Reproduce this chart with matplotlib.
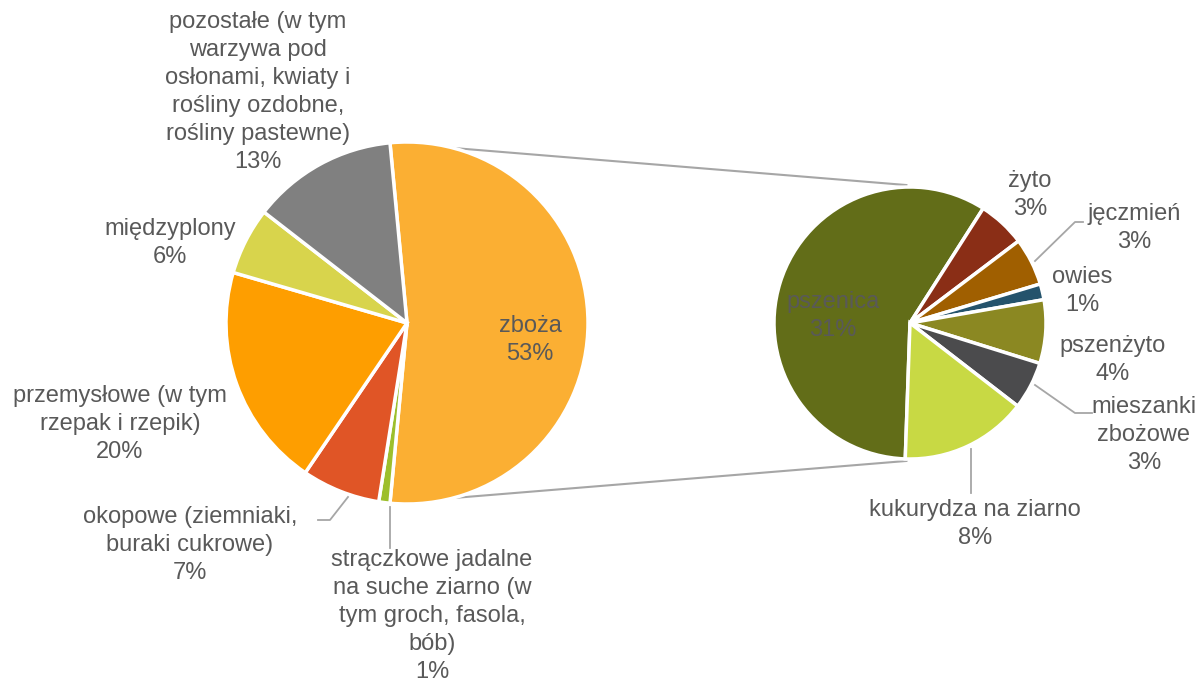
import numpy as np
import matplotlib
matplotlib.use('Agg')
import matplotlib.pyplot as plt

plt.rcParams['font.family'] = ['Liberation Sans', 'DejaVu Sans']

# pie 1 - struktura zasiewów
grupy = ['zboża', 'strączkowe jadalne\nna suche ziarno (w\ntym groch, fasola,\nbób)',
         'okopowe (ziemniaki,\nburaki cukrowe)', 'przemysłowe (w tym\nrzepak i rzepik)',
         'międzyplony',
         'pozostałe (w tym\nwarzywa pod\nosłonami, kwiaty i\nrośliny ozdobne,\nrośliny pastewne)']
udzial = [53, 1, 7, 20, 6, 13]
kolory = ['#FBAF33', '#9DBF2C', '#E05526', '#FE9E00', '#D8D44C', '#808080']

# pie 2 - zboża
zboza = ['pszenica', 'żyto', 'jęczmień', 'owies', 'pszenżyto', 'mieszanki\nzbożowe',
         'kukurydza na ziarno']
udzial_zb = [31, 3, 3, 1, 4, 3, 8]
kolory_zb = ['#626D18', '#8A2E16', '#A05F00', '#24536C', '#8B8822', '#4B4B4D', '#C8D944']

W, H = 1201, 682
fig = plt.figure(figsize=(W / 100, H / 100), dpi=100)
ax = fig.add_axes([0, 0, 1, 1])

c1 = (407, H - 323)
r1 = 181
c2 = (910, H - 323)
r2 = 136

w1, _ = ax.pie(udzial, colors=kolory, startangle=95.4, counterclock=False,
               center=c1, radius=r1, wedgeprops=dict(edgecolor='white', linewidth=2.5))
w2, _ = ax.pie(udzial_zb, colors=kolory_zb, startangle=-92, counterclock=False,
               center=c2, radius=r2, wedgeprops=dict(edgecolor='white', linewidth=2.5))

# linie łączące
t_a, t_b = w1[0].theta2, w1[0].theta1
for ta, tb in [(t_a, 91.5), (t_b, -91.5)]:
    x0 = c1[0] + r1 * np.cos(np.radians(ta))
    y0 = c1[1] + r1 * np.sin(np.radians(ta))
    x1 = c2[0] + (r2 + 2) * np.cos(np.radians(tb))
    y1 = c2[1] + (r2 + 2) * np.sin(np.radians(tb))
    ax.plot([x0, x1], [y0, y1], color='#A6A6A6', lw=1.5, zorder=0)

txt = '#595959'
fs = 17
ls = 1.36

def etykieta(nazwa, proc, x, y):
    ax.text(x, H - y, nazwa + '\n' + str(proc) + '%', ha='center', va='center',
            fontsize=fs, color=txt, linespacing=ls, zorder=5)

etykieta(grupy[0], udzial[0], 530, 340)
etykieta(grupy[1], udzial[1], 432, 616)
etykieta(grupy[2], udzial[2], 190, 545)
etykieta(grupy[3], udzial[3], 120, 424)
etykieta(grupy[4], udzial[4], 170, 243)
etykieta(grupy[5], udzial[5], 258, 92)

etykieta(zboza[0], udzial_zb[0], 833, 316)
etykieta(zboza[1], udzial_zb[1], 1030, 195)
etykieta(zboza[2], udzial_zb[2], 1134, 228)
etykieta(zboza[3], udzial_zb[3], 1082, 291)
etykieta(zboza[4], udzial_zb[4], 1113, 360)
etykieta(zboza[5], udzial_zb[5], 1144, 435)
etykieta(zboza[6], udzial_zb[6], 975, 524)

# linie odniesienia
lc = '#A6A6A6'
ax.plot([348, 330, 318], [H - 497, H - 520, H - 520], color=lc, lw=1.3)
ax.plot([390, 390], [H - 507, H - 548], color=lc, lw=1.3)
ax.plot([1035, 1075, 1083], [H - 261, H - 222, H - 222], color=lc, lw=1.3)
ax.plot([1035, 1075, 1092], [H - 385, H - 413, H - 413], color=lc, lw=1.3)
ax.plot([971, 971], [H - 449, H - 493], color=lc, lw=1.3)

ax.set_xlim(0, W)
ax.set_ylim(0, H)
ax.set_aspect('equal')
ax.axis('off')

fig.savefig('out.png', dpi=100)
